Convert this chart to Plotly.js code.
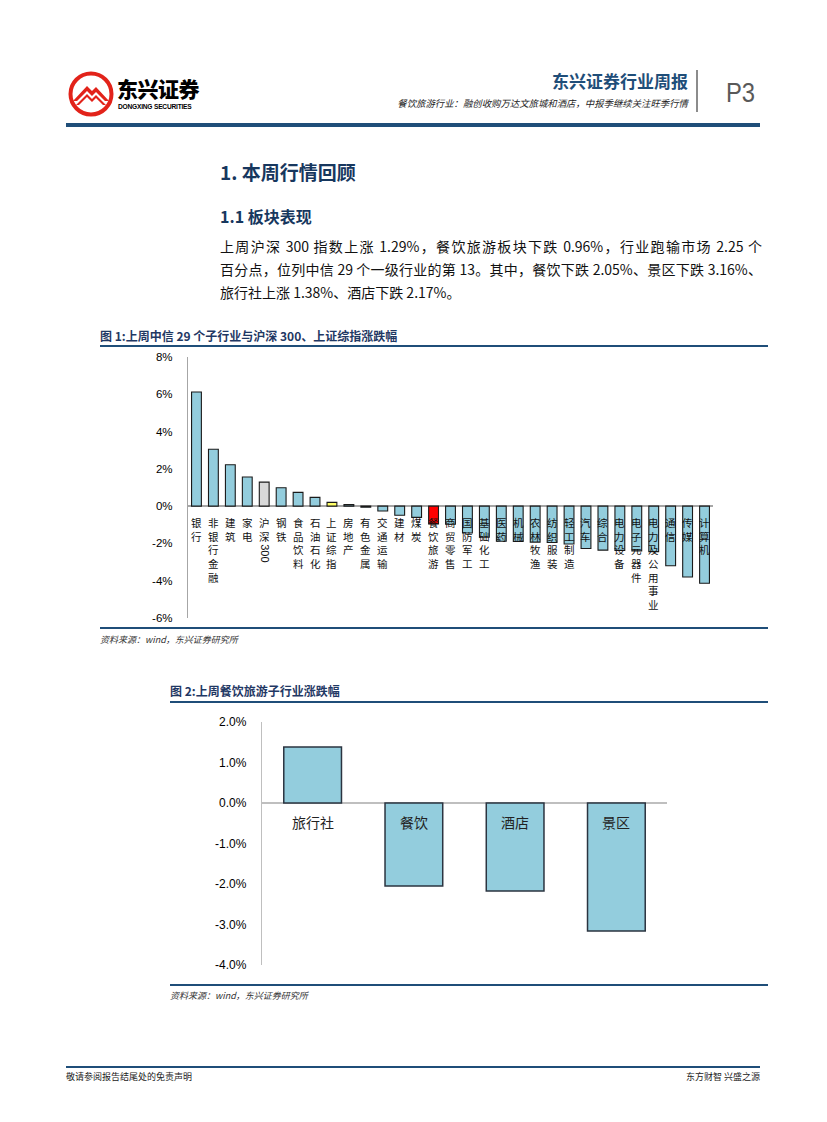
<!DOCTYPE html>
<html><head><meta charset="utf-8">
<script src="https://cdn.plot.ly/plotly-3.0.1.min.js"></script>
<style>
body{margin:0;background:#fff;}
#page{position:relative;width:827px;height:1122px;overflow:hidden;font-family:"Noto Sans CJK SC","Noto Sans",sans-serif;color:#000;}
.abs{position:absolute;white-space:nowrap;}
.rule{position:absolute;background:#1F4E79;}
.para{position:absolute;left:220px;width:542px;font-size:14px;height:22px;line-height:22px;white-space:nowrap;color:#111;}
.just{text-align:justify;text-align-last:justify;}
</style></head><body><div id="page">

<!-- header -->
<svg class="abs" style="left:68px;top:71px" width="46" height="46" viewBox="0 0 46 46">
  <circle cx="23" cy="23" r="20.5" fill="#fff" stroke="#E2231A" stroke-width="4"/>
  <path d="M5 30 L19 15 L24 20 L28 16 L41 30 L37 30 L28 21 L24 25 L19 20 L9 30 Z" fill="#E2231A"/>
  <path d="M8 34 L19 23 L24 28 L28 24 L38 34 L35 34 L28 27 L24 31 L19 26 L11 34 Z" fill="#E2231A"/>
</svg>
<div class="abs" style="left:117px;top:74px;font-size:21px;line-height:28px;font-weight:900;letter-spacing:-0.5px;">东兴证券</div>
<div class="abs" style="left:118px;top:102px;font-family:'Liberation Sans',sans-serif;font-size:6.6px;line-height:9px;font-weight:bold;letter-spacing:-0.2px;">DONGXING SECURITIES</div>

<div class="abs" style="right:139px;top:70px;font-size:17px;line-height:22px;font-weight:600;color:#1F4E79;">东兴证券行业周报</div>
<div class="abs" style="right:139px;top:96px;font-size:9.4px;line-height:14px;font-style:italic;color:#222;">餐饮旅游行业：融创收购万达文旅城和酒店，中报季继续关注旺季行情</div>
<div class="abs" style="left:696px;top:70px;width:1.5px;height:42px;background:#8c8c8c;"></div>
<div class="abs" style="left:726px;top:76px;font-family:'Liberation Sans Narrow','Liberation Sans',sans-serif;font-size:28px;line-height:34px;color:#595959;font-weight:300;transform:scaleX(0.85);transform-origin:left center;">P3</div>
<div class="rule" style="left:66px;top:123px;width:694px;height:4px;"></div>

<!-- headings -->
<div class="abs" style="left:220px;top:159px;font-size:19px;line-height:26px;font-weight:bold;color:#17375E;">1. 本周行情回顾</div>
<div class="abs" style="left:220px;top:205px;font-size:16px;line-height:22px;font-weight:bold;color:#17375E;">1.1 板块表现</div>
<div class="para just" style="top:235px;">上周沪深 300 指数上涨 1.29%，餐饮旅游板块下跌 0.96%，行业跑输市场 2.25 个</div>
<div class="para just" style="top:258px;">百分点，位列中信 29 个一级行业的第 13。其中，餐饮下跌 2.05%、景区下跌 3.16%、</div>
<div class="para" style="top:281px;">旅行社上涨 1.38%、酒店下跌 2.17%。</div>

<!-- figure 1 -->
<div class="abs" style="left:100px;top:327px;font-size:12px;line-height:18px;font-weight:bold;color:#1F3864;">图 1:上周中信 29 个子行业与沪深 300、上证综指涨跌幅</div>
<div class="rule" style="left:100px;top:345px;width:668px;height:2px;"></div>
<div id="chart1" class="abs" style="left:100px;top:348px;width:668px;height:278px;"></div>
<div class="rule" style="left:100px;top:627px;width:668px;height:1.5px;"></div>
<div class="abs" style="left:100px;top:633px;font-size:9px;line-height:14px;font-style:italic;color:#333;">资料来源：wind，东兴证券研究所</div>

<!-- figure 2 -->
<div class="abs" style="left:170px;top:682px;font-size:12px;line-height:18px;font-weight:bold;color:#1F3864;">图 2:上周餐饮旅游子行业涨跌幅</div>
<div class="rule" style="left:170px;top:701px;width:598px;height:2px;"></div>
<div id="chart2" class="abs" style="left:170px;top:705px;width:598px;height:280px;"></div>
<div class="rule" style="left:170px;top:984px;width:598px;height:1.5px;"></div>
<div class="abs" style="left:170px;top:989px;font-size:9px;line-height:14px;font-style:italic;color:#333;">资料来源：wind，东兴证券研究所</div>

<!-- footer -->
<div class="rule" style="left:66px;top:1066px;width:694px;height:2px;"></div>
<div class="abs" style="left:66px;top:1070px;font-size:9px;line-height:14px;color:#222;">敬请参阅报告结尾处的免责声明</div>
<div class="abs" style="right:67px;top:1070px;font-size:9px;line-height:14px;color:#222;">东方财智 兴盛之源</div>

</div>
<script>
// ---- data: chart 1 (weekly change, %) ----
const industries = ['银行','非银行金融','建筑','家电','沪深300','钢铁','食品饮料','石油石化','上证综指','房地产','有色金属','交通运输','建材','煤炭','餐饮旅游','商贸零售','国防军工','基础化工','医药','机械','农林牧渔','纺织服装','轻工制造','汽车','综合','电力设备','电子元器件','电力及公用事业','通信','传媒','计算机'];
const weeklyChange = [6.12,3.05,2.22,1.56,1.29,0.99,0.74,0.47,0.20,0.08,-0.06,-0.26,-0.49,-0.60,-0.96,-0.97,-1.44,-1.66,-1.88,-1.90,-1.93,-1.95,-2.03,-2.27,-2.36,-2.37,-2.40,-2.44,-3.20,-3.80,-4.14];
const yTicks1 = [-6,-4,-2,0,2,4,6,8];

// ---- data: chart 2 ----
const subSectors = ['旅行社','餐饮','酒店','景区'];
const subChange = [1.38,-2.05,-2.17,-3.16];
const yTicks2 = [-4,-3,-2,-1,0,1,2];

const CJK = '"Noto Sans CJK SC", sans-serif';
const LAT = '"Liberation Sans", Arial, sans-serif';

// chart 1: stacked (vertical) category labels next to the zero line
const special = {'沪深300':'#D9D9D9','上证综指':'#FFFF66','餐饮旅游':'#FF0000'};
const colors1 = industries.map(c => special[c] || '#93CDDD');
const fs1 = 10.5, lh1 = fs1*1.3;
const ann1 = [];
industries.forEach(c => {
  const m = c.match(/^([^0-9A-Za-z]*)([0-9A-Za-z]+)?$/);
  const cjk = m[1].split('');
  ann1.push({x:c, y:0, xref:'x', yref:'y', text:cjk.join('<br>'), showarrow:false,
    xanchor:'center', yanchor:'top', yshift:-7, font:{family:CJK, size:fs1, color:'#111'}});
  if (m[2]) {
    ann1.push({x:c, y:0, xref:'x', yref:'y', text:m[2], showarrow:false, textangle:90,
      xanchor:'center', yanchor:'top', yshift:-9 - cjk.length*lh1, font:{family:LAT, size:11, color:'#111'}});
  }
});

Plotly.newPlot('chart1', [{
  type:'bar', x:industries, y:weeklyChange,
  marker:{color:colors1, line:{color:'#1a1a1a', width:1.1}},
  hoverinfo:'skip'
}], {
  width:668, height:278,
  margin:{l:88.3, r:55, t:9, b:8.4},
  paper_bgcolor:'rgba(0,0,0,0)', plot_bgcolor:'rgba(0,0,0,0)',
  bargap:0.42, showlegend:false,
  xaxis:{type:'category', range:[-0.5, industries.length-0.5], showticklabels:false, showgrid:false, zeroline:false, showline:false, fixedrange:true},
  yaxis:{range:[-6,8], tickvals:yTicks1, ticktext:yTicks1.map(v=>v+'%'), showgrid:false,
    showline:true, linecolor:'#A6A6A6', linewidth:1.2,
    zeroline:true, zerolinecolor:'#A6A6A6', zerolinewidth:1.5,
    ticks:'', ticklabelstandoff:12, tickfont:{family:LAT, size:11.5, color:'#000'}, fixedrange:true},
  annotations:ann1
}, {displayModeBar:false, staticPlot:true});

// chart 2
const ann2 = subSectors.map(c => ({x:c, y:0, xref:'x', yref:'y', text:c, showarrow:false,
  xanchor:'center', yanchor:'middle', yshift:-19, font:{family:CJK, size:14, color:'#222'}}));

Plotly.newPlot('chart2', [{
  type:'bar', x:subSectors, y:subChange,
  marker:{color:'#93CDDD', line:{color:'#2b3440', width:1.5}},
  hoverinfo:'skip'
}], {
  width:598, height:280,
  margin:{l:92, r:101, t:17, b:20},
  paper_bgcolor:'rgba(0,0,0,0)', plot_bgcolor:'rgba(0,0,0,0)',
  bargap:0.43, showlegend:false,
  xaxis:{type:'category', range:[-0.5, subSectors.length-0.5], showticklabels:false, showgrid:false, zeroline:false, showline:false, fixedrange:true},
  yaxis:{range:[-4,2], tickvals:yTicks2, ticktext:yTicks2.map(v=>v.toFixed(1)+'%'), showgrid:false,
    showline:true, linecolor:'#BFBFBF', linewidth:1.2,
    zeroline:true, zerolinecolor:'#BFBFBF', zerolinewidth:1.5,
    ticks:'', ticklabelstandoff:12, tickfont:{family:LAT, size:12, color:'#000'}, fixedrange:true},
  annotations:ann2
}, {displayModeBar:false, staticPlot:true});
</script>
</body></html>
